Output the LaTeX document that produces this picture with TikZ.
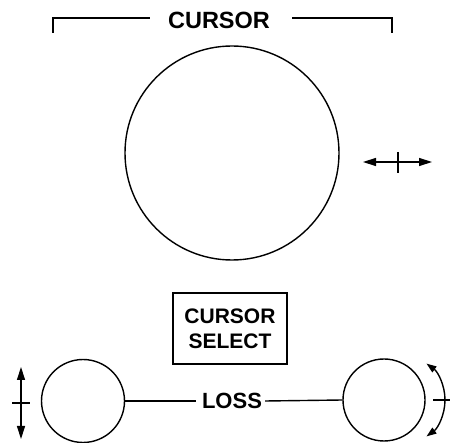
\documentclass[tikz,border=0pt]{standalone}
\usepackage{fontspec}
\setmainfont{Liberation Sans}
\usetikzlibrary{arrows.meta}
\begin{document}
\begin{tikzpicture}[x=1pt,y=-1pt,
  line/.style={line width=1.4pt},
  lbl/.style={font=\bfseries\fontsize{#1}{#1}\selectfont, inner sep=0pt},
  ring/.style={circle, draw, line width=1.4pt, inner sep=0pt, minimum size=#1},
  tip/.style={-{Triangle[length=13pt,width=8pt]}, line width=1.4pt},
  arctip/.style={-{Triangle[length=10pt,width=7pt]}, line width=1.4pt}
]
\useasboundingbox (0,0) rectangle (450,443);
% top bracket
\node[lbl=23.5] (toplbl) at (219,20) {CURSOR};
\coordinate (bl) at (53,33);
\coordinate (br) at (392,33);
\draw[line] (bl) |- ([xshift=-18pt]toplbl.west |- 0,18);
\draw[line] (br) |- ([xshift=22pt]toplbl.east |- 0,18);
% big circle
\node[ring=214pt] (big) at (232,153) {};
% horizontal arrow
\coordinate (hc) at (398,162);
\draw[tip] (hc) -- (432,162);
\draw[tip] (hc) -- (363,162);
\draw[line] (398,152) -- (398,173);
% cursor select box
\node[draw, line width=1.4pt, minimum width=114pt, minimum height=71pt, inner sep=0pt, align=center,
      font=\bfseries\fontsize{21}{25}\selectfont] (box) at (230,328.5) {CURSOR\\SELECT};
% small circles
\node[ring=83pt] (lc) at (83,401) {};
\node[ring=82pt] (rc) at (384,400) {};
\node[lbl=22] (loss) at (232,401) {LOSS};
\draw[line] (lc.east) -- ([xshift=-6pt]loss.west);
\draw[line] ([xshift=3pt]loss.east) -- (rc.west);
% vertical arrow at left
\coordinate (vc) at (21,403);
\draw[tip] (vc) -- (21,367);
\draw[tip] (vc) -- (21,439);
\draw[line] (12,403) -- (30,403);
% arc arrow at right
\coordinate (ac) at (400,400);
\draw[arctip] (ac) ++(0:45) arc[start angle=0, end angle=-54, radius=45];
\draw[arctip] (ac) ++(0:45) arc[start angle=0, end angle=54, radius=45];
\draw[line] (433,400) -- (450,400);
\end{tikzpicture}
\end{document}
